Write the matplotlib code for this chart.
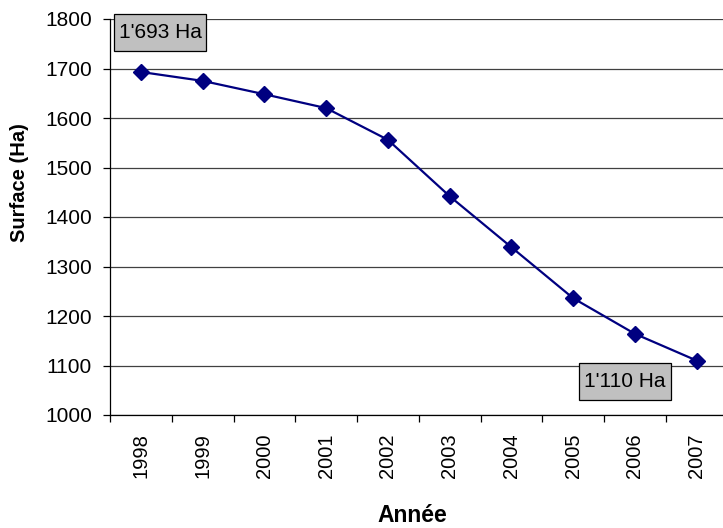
import numpy as np
import matplotlib.pyplot as plt
from matplotlib.patches import Rectangle

plt.rcParams['font.family'] = ['Liberation Sans', 'DejaVu Sans']

annees = ['1998', '1999', '2000', '2001', '2002', '2003', '2004', '2005', '2006', '2007']
surface = [1693, 1675, 1648, 1620, 1556, 1442, 1339, 1236, 1164, 1110]

fig = plt.figure(figsize=(7.23, 5.28), dpi=100)
W, H = 723, 528
ax = fig.add_axes([110 / W, 1 - 415 / H, (727.5 - 110) / W, (415 - 19) / H])

x = np.arange(len(annees))
ax.plot(x, surface, color='#000080', lw=1.6, marker='D', ms=8, zorder=3)

ax.set_xlim(-0.5, len(annees) - 0.5)
ax.set_ylim(1000, 1800)
ax.set_yticks(np.arange(1000, 1801, 100))
ax.yaxis.grid(True, color='#404040', lw=0.9)
ax.set_axisbelow(True)

ax.set_xticks(x)
ax.set_xticklabels(annees, rotation=90)
ax.set_xticks(np.arange(-0.5, len(annees), 1), minor=True)
ax.tick_params(axis='x', which='major', length=0, pad=13, labelsize=14.5)
ax.tick_params(axis='x', which='minor', length=5, width=0.9, direction='out')
ax.tick_params(axis='y', length=5, width=0.9, labelsize=15, pad=8)

for s in ['top', 'right']:
    ax.spines[s].set_visible(False)
for s in ['left', 'bottom']:
    ax.spines[s].set_linewidth(0.9)

fig.text(412 / W, 1 - 515 / H, 'Année', fontsize=16.5, fontweight='bold', ha='center', va='center')
fig.text(20 / W, 1 - 183 / H, 'Surface (Ha)', fontsize=14.5, fontweight='bold',
         ha='center', va='center', rotation=90)

# boites d'etiquettes (pixels: x0, y0, x1, y1)
for txt, (x0, y0, x1, y1) in [("1'693 Ha", (114, 14, 206, 51)), ("1'110 Ha", (579, 363, 671, 400))]:
    fig.patches.append(Rectangle((x0 / W, 1 - y1 / H), (x1 - x0) / W, (y1 - y0) / H,
                                 transform=fig.transFigure, fc='#c0c0c0', ec='black',
                                 lw=0.9, zorder=4))
    fig.text((x0 + x1) / 2 / W, 1 - (y0 + y1) / 2 / H, txt, fontsize=15,
             ha='center', va='center', zorder=5)

fig.savefig('out.png', dpi=100)
